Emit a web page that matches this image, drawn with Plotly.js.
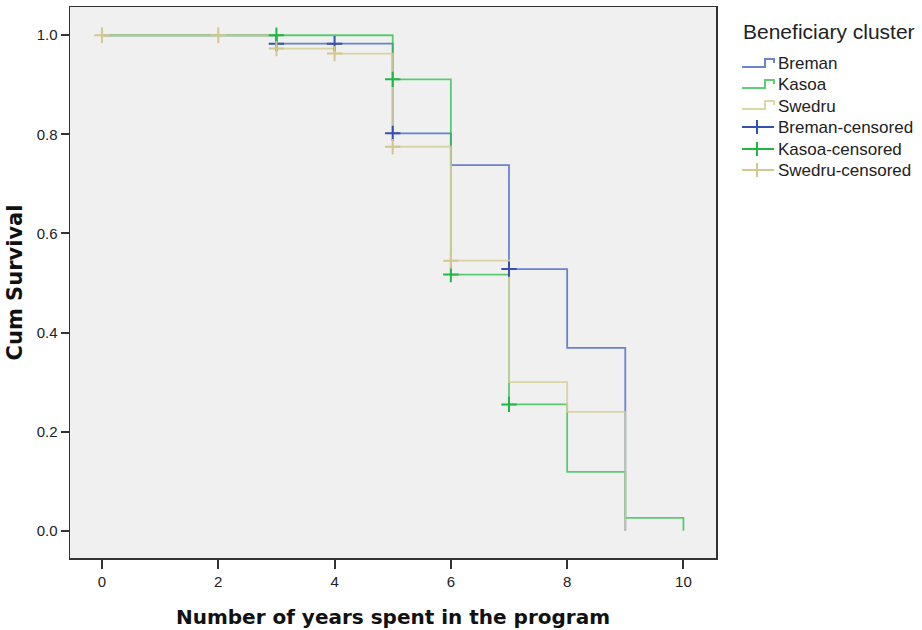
<!DOCTYPE html>
<html>
<head>
<meta charset="utf-8">
<script src="https://cdn.plot.ly/plotly-3.0.1.min.js"></script>
<style>html,body{margin:0;padding:0;background:#fff;}#chart{width:922px;height:630px;}</style>
</head>
<body>
<div id="chart"></div>
<script>
// Step curves (time, cumulative survival)
const bremanX = [0, 3, 5, 6, 7, 8, 9];
const bremanY = [1.0, 0.983, 0.802, 0.738, 0.528, 0.369, 0.0];
const kasoaX = [0, 5, 6, 7, 8, 9, 10];
const kasoaY = [1.0, 0.911, 0.517, 0.255, 0.119, 0.026, 0.0];
const swedruX = [0, 3, 4, 5, 6, 7, 8, 9];
const swedruY = [1.0, 0.973, 0.963, 0.775, 0.545, 0.300, 0.240, 0.0];
// Censored observations
const bremanCensX = [3, 4, 5, 7];
const bremanCensY = [0.983, 0.983, 0.802, 0.528];
const kasoaCensX = [3, 5, 6, 7];
const kasoaCensY = [1.0, 0.911, 0.517, 0.255];
const swedruCensX = [0, 2, 3, 4, 5, 6];
const swedruCensY = [1.0, 1.0, 0.973, 0.963, 0.775, 0.545];
const names = ['Breman', 'Kasoa', 'Swedru'];
const legendLabels = ['Breman', 'Kasoa', 'Swedru', 'Breman-censored', 'Kasoa-censored', 'Swedru-censored'];
const legendTitle = 'Beneficiary cluster';
const xTicks = [0, 2, 4, 6, 8, 10];
const yTicks = [0.0, 0.2, 0.4, 0.6, 0.8, 1.0];

const lineCol = ['rgba(80,112,200,0.85)', 'rgba(40,190,70,0.75)', 'rgba(214,206,150,0.85)'];
const markCol = ['#3550b0', '#1fb842', '#d2c88e'];

function stepTrace(x, y, i) {
  return {x: x, y: y, name: names[i], type: 'scatter', mode: 'lines', showlegend: false,
    line: {shape: 'hv', color: lineCol[i], width: 1.8}};
}
function censTrace(x, y, i) {
  return {x: x, y: y, name: names[i] + '-censored', type: 'scatter', mode: 'markers', showlegend: false,
    marker: {symbol: 'cross-thin', size: 11, line: {color: markCol[i], width: 2}}};
}
const data = [
  stepTrace(bremanX, bremanY, 0),
  stepTrace(kasoaX, kasoaY, 1),
  stepTrace(swedruX, swedruY, 2),
  censTrace(bremanCensX, bremanCensY, 0),
  censTrace(kasoaCensX, kasoaCensY, 1),
  censTrace(swedruCensX, swedruCensY, 2)
];

// Manual legend (pixel -> paper conversion for layout decoration)
const M = {l: 70, r: 206, t: 7, b: 72};
const PW = 922 - M.l - M.r, PH = 630 - M.t - M.b;
const px = X => (X - M.l) / PW;
const py = Y => (630 - M.b - Y) / PH;
const itemY = [64, 85, 106, 127, 149, 170];
const shapes = [];
const annotations = [{
  text: legendTitle, xref: 'paper', yref: 'paper', x: px(741), y: py(31),
  xanchor: 'left', yanchor: 'middle', showarrow: false,
  font: {size: 21, color: '#222', family: 'Liberation Sans, Arial, sans-serif'}
}];
legendLabels.forEach((lab, k) => {
  const yc = itemY[k];
  const ci = k % 3;
  if (k < 3) {
    shapes.push({type: 'path', xref: 'paper', yref: 'paper',
      path: `M ${px(742)} ${py(yc + 3)} L ${px(765)} ${py(yc + 3)} L ${px(765)} ${py(yc - 5)} L ${px(774)} ${py(yc - 5)} L ${px(774)} ${py(yc - 1)}`,
      line: {color: lineCol[ci], width: 2}});
  } else {
    shapes.push({type: 'line', xref: 'paper', yref: 'paper',
      x0: px(742), x1: px(774), y0: py(yc), y1: py(yc), line: {color: markCol[ci], width: 2}});
    shapes.push({type: 'line', xref: 'paper', yref: 'paper',
      x0: px(757), x1: px(757), y0: py(yc - 7), y1: py(yc + 7), line: {color: markCol[ci], width: 2}});
  }
  annotations.push({text: lab, xref: 'paper', yref: 'paper', x: px(776), y: py(yc),
    xanchor: 'left', yanchor: 'middle', showarrow: false,
    font: {size: 17, color: '#222', family: 'Liberation Sans, Arial, sans-serif'}});
});

const layout = {
  width: 922, height: 630,
  margin: M,
  paper_bgcolor: '#ffffff', plot_bgcolor: '#f0f0f0',
  font: {family: 'Liberation Sans, Arial, sans-serif', size: 15, color: '#222'},
  xaxis: {range: [-0.55, 10.56], tickvals: xTicks, ticktext: xTicks.map(String),
    ticks: 'outside', ticklen: 9, tickwidth: 2, tickcolor: '#333',
    showline: true, linecolor: '#333', linewidth: 1.5, mirror: true,
    showgrid: false, zeroline: false, tickfont: {size: 15, color: '#222'},
    title: {text: 'Number of years spent in the program', standoff: 21,
      font: {size: 20, color: '#111', family: 'DejaVu Sans, sans-serif', weight: 'bold'}}},
  yaxis: {range: [-0.055, 1.057], tickvals: yTicks, ticktext: yTicks.map(v => v.toFixed(1)),
    ticks: 'outside', ticklen: 8, tickwidth: 2, tickcolor: '#333',
    showline: true, linecolor: '#333', linewidth: 1.5, mirror: true,
    showgrid: false, zeroline: false, tickfont: {size: 15, color: '#222'},
    title: {text: 'Cum Survival', standoff: 8,
      font: {size: 21, color: '#111', family: 'DejaVu Sans, sans-serif', weight: 'bold'}}},
  showlegend: false,
  shapes: shapes,
  annotations: annotations
};
Plotly.newPlot('chart', data, layout, {displayModeBar: false, staticPlot: true});
</script>
</body>
</html>
